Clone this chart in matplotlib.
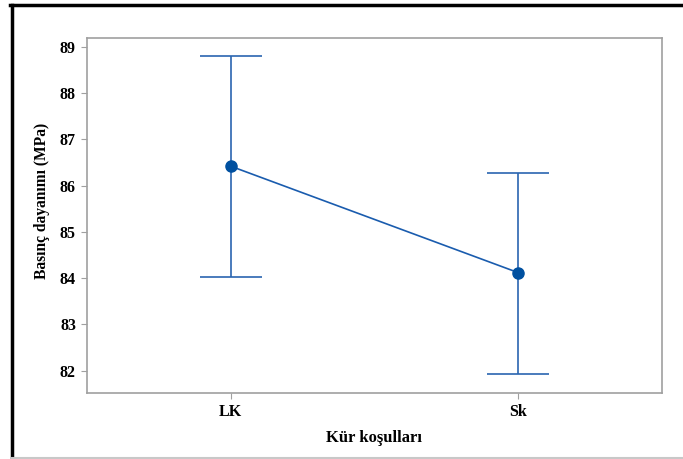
import matplotlib
matplotlib.use('Agg')
import matplotlib.pyplot as plt
from matplotlib.lines import Line2D

plt.rcParams['font.family'] = ['Liberation Serif', 'DejaVu Serif']
plt.rcParams['font.weight'] = 'bold'

# data
groups = ['LK', 'Sk']
means = [86.42, 84.12]
upper = [88.80, 86.28]
lower = [84.02, 81.92]

x = list(range(len(groups)))
err_lo = [m - l for m, l in zip(means, lower)]
err_hi = [u - m for u, m in zip(upper, means)]

fig = plt.figure(figsize=(6.83, 4.59), dpi=100)
ax = fig.add_axes([87/683, 1 - 393/459, (662-87)/683, (393-38)/459])

ax.errorbar(x, means, yerr=[err_lo, err_hi], fmt='none', ecolor='#2a65b0',
            elinewidth=1.2, capsize=22, capthick=1.2)
ax.plot(x, means, color='#1a5cae', lw=1.2, marker='o', ms=8,
        mfc='#0050a0', mec='#0050a0')

ax.set_xlim(-0.5, 1.5)
ax.set_ylim(81.52, 89.19)
ax.set_xticks(x)
ax.set_xticklabels(groups)
ax.set_yticks(range(82, 90))
ax.tick_params(axis='both', colors='#a0a0a0', labelcolor='black', length=4,
               labelsize=11.5, pad=4)
for lab in ax.get_xticklabels() + ax.get_yticklabels():
    lab.set_fontweight('bold')
for s in ax.spines.values():
    s.set_color('#a0a0a0')
    s.set_linewidth(1.2)

ax.set_xlabel('Kür koşulları', fontsize=12, fontweight='bold', labelpad=7)
ax.set_ylabel('Basınç dayanımı (MPa)', fontsize=11.2, fontweight='bold')
ax.yaxis.set_label_coords(-0.064, 0.54)

# outer frame as in the reference
fig.add_artist(Line2D([10/683, 1], [1 - 5/459, 1 - 5/459], color='black', lw=2.5))
fig.add_artist(Line2D([12/683, 12/683], [0, 1 - 5/459], color='black', lw=2.5))
fig.add_artist(Line2D([12/683, 1], [1.5/459, 1.5/459], color='#c8c8c8', lw=1.5))

fig.savefig('out.png', dpi=100)
